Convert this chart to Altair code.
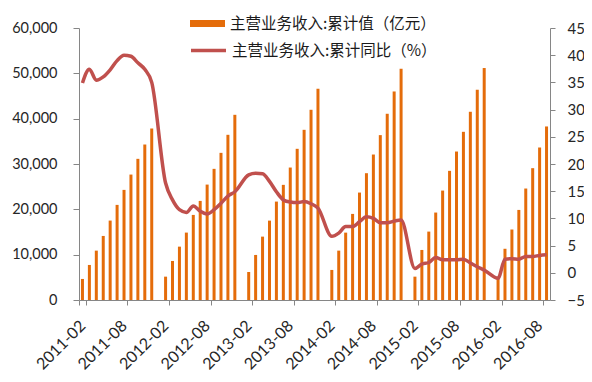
import altair as alt
import pandas as pd

# ---- data ----
years = [2011, 2012, 2013, 2014, 2015, 2016]
last_month = {2011: 12, 2012: 12, 2013: 12, 2014: 12, 2015: 12, 2016: 9}

# cumulative revenue (亿元), Feb..Dec of each year (Jan has no value)
rev_2011 = [4640, 7730, 10890, 14130, 17520, 20980, 24290, 27670, 31140, 34300, 37830]
rev_2012 = [5150, 8610, 11770, 14870, 18770, 21860, 25460, 28930, 32460, 36440, 40850]
rev_2013 = [6180, 9940, 13980, 17510, 21710, 25400, 29220, 33350, 37540, 41960, 46600]
rev_2014 = [6630, 10890, 14860, 18990, 23700, 27970, 32090, 36370, 41080, 46000, 51010]
rev_2015 = [5150, 11040, 15090, 19290, 24140, 28490, 32750, 37100, 41520, 46380, 51170]
rev_2016 = [5000, 11300, 15550, 19870, 24590, 29080, 33640, 38280]

# cumulative YoY (%), Feb..Dec of each year
yoy_2011 = [34.9, 37.4, 35.4, 36.0, 37.3, 39.0, 40.0, 39.8, 38.6, 37.4, 35.0]
yoy_2012 = [16.5, 13.4, 11.6, 11.1, 12.3, 11.3, 10.8, 11.6, 12.8, 14.1, 14.9]
yoy_2013 = [18.0, 18.3, 18.2, 16.8, 14.9, 13.4, 13.0, 12.9, 13.1, 12.7, 11.9]
yoy_2014 = [6.7, 7.3, 8.5, 8.5, 9.4, 10.3, 10.0, 9.2, 9.2, 9.5, 9.7]
yoy_2015 = [0.8, 1.6, 1.9, 2.8, 2.4, 2.4, 2.4, 2.5, 1.8, 1.1, 0.5]
yoy_2016 = [-1.0, 2.5, 2.6, 2.5, 3.0, 3.0, 3.2, 3.3]

revenue = dict(zip(years, [rev_2011, rev_2012, rev_2013, rev_2014, rev_2015, rev_2016]))
yoy = dict(zip(years, [yoy_2011, yoy_2012, yoy_2013, yoy_2014, yoy_2015, yoy_2016]))

tick_labels = ["2011-02", "2011-08", "2012-02", "2012-08", "2013-02", "2013-08",
               "2014-02", "2014-08", "2015-02", "2015-08", "2016-02", "2016-08"]

BAR_NAME = "主营业务收入:累计值（亿元）"
LINE_NAME = "主营业务收入:累计同比（%）"

rows = []
for y in years:
    for m in range(1, last_month[y] + 1):
        if y == 2011 and m == 1:
            continue
        d = f"{y}-{m:02d}"
        if m == 1:
            rows.append({"date": d, "revenue": None, "yoy": None})
        else:
            rows.append({"date": d, "revenue": revenue[y][m - 2], "yoy": yoy[y][m - 2]})
df = pd.DataFrame(rows)
df["s1"] = BAR_NAME
df["s2"] = LINE_NAME
categories = list(df["date"])

AX = "#868686"
TXT = "#262626"
NUMFONT = "Lato"
CJK = "Noto Sans CJK SC"

x_enc = alt.X(
    "date:O",
    sort=categories,
    scale=alt.Scale(domain=categories, paddingInner=0, paddingOuter=0),
    axis=alt.Axis(
        title=None, values=tick_labels, labelAngle=-45, labelAlign="right",
        labelBaseline="middle", tickBand="extent", tickSize=5, labelPadding=18,
        domainColor=AX, tickColor=AX, labelFont=NUMFONT, labelFontSize=16,
        labelColor=TXT, grid=False,
    ),
)

bars = alt.Chart(df).transform_filter("isValid(datum.revenue)").mark_bar(size=3).encode(
    x=x_enc,
    y=alt.Y(
        "revenue:Q",
        scale=alt.Scale(domain=[0, 60000], nice=False, zero=True),
        axis=alt.Axis(
            title=None, values=list(range(0, 60001, 10000)), format=",.0f",
            tickSize=6, labelPadding=16, domainColor=AX, tickColor=AX,
            labelFont=NUMFONT, labelFontSize=14.5, labelColor=TXT, grid=False,
        ),
    ),
    color=alt.Color(
        "s1:N",
        scale=alt.Scale(domain=[BAR_NAME], range=["#E46C0A"]),
        legend=alt.Legend(
            title=None, orient="none", legendX=111, legendY=-22, padding=0,
            symbolType="M-1,-0.2L1,-0.2L1,0.2L-1,0.2Z", symbolSize=1225,
            symbolStrokeWidth=0, labelFont=CJK, labelFontSize=15.5,
            labelColor="#1a1a1a", labelOffset=5, labelLimit=400,
        ),
    ),
)

line = alt.Chart(df).transform_filter("isValid(datum.yoy)").mark_line(
    interpolate="monotone", strokeWidth=3.5
).encode(
    x=x_enc,
    y=alt.Y(
        "yoy:Q",
        scale=alt.Scale(domain=[-5, 45], nice=False, zero=False),
        axis=alt.Axis(
            title=None, orient="right", values=list(range(-5, 46, 5)),
            tickSize=5, labelPadding=12, domainColor=AX, tickColor=AX,
            labelFont=NUMFONT, labelFontSize=15, labelColor=TXT, grid=False,
        ),
    ),
    stroke=alt.Stroke(
        "s2:N",
        scale=alt.Scale(domain=[LINE_NAME], range=["#C0504D"]),
        legend=alt.Legend(
            title=None, orient="none", legendX=110, legendY=3, padding=0,
            symbolType="M-1,0L1,0", symbolSize=1225, symbolStrokeWidth=3.5,
            labelFont=CJK, labelFontSize=15.5, labelColor="#1a1a1a",
            labelOffset=4, labelLimit=400,
        ),
    ),
)

chart = (
    alt.layer(bars, line)
    .resolve_scale(y="independent", color="independent")
    .properties(
        width=471, height=272,
        autosize=alt.AutoSizeParams(type="none"),
        padding={"left": 71, "top": 20, "right": 34, "bottom": 74},
        background="white",
    )
    .configure_view(stroke=None)
)

chart.save("out.html", embed_options={"renderer": "svg", "actions": False})
